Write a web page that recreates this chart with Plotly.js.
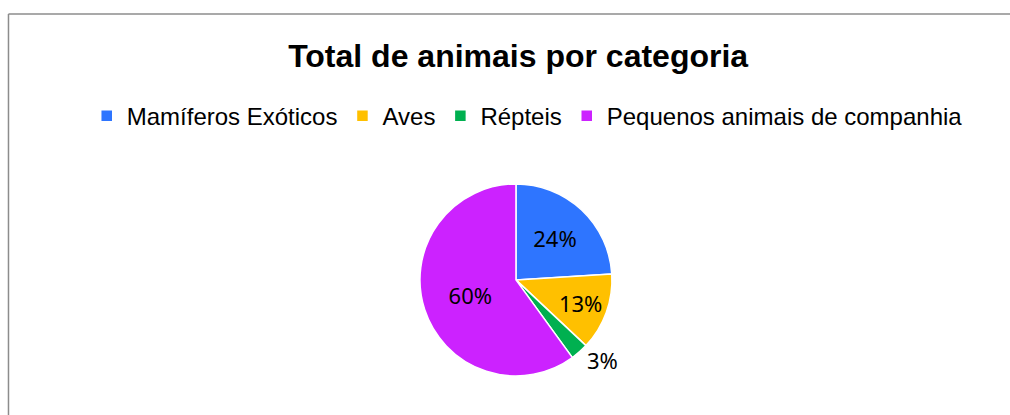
<!DOCTYPE html>
<html><head><meta charset="utf-8">
<script src="https://cdn.plot.ly/plotly-3.0.1.min.js"></script>
<style>html,body{margin:0;padding:0;background:#fff}#c{width:1010px;height:415px}</style>
</head><body><div id="c"></div>
<script>
const categories = ["Mamíferos Exóticos", "Aves", "Répteis", "Pequenos animais de companhia"];
const values = [24, 13, 3, 60];
const colors = ["#2E75FF", "#FFC000", "#00B050", "#CC22FF"];
const positions = ["inside", "inside", "outside", "inside"];

const trace = {
  type: "pie",
  labels: categories,
  values: values,
  sort: false,
  direction: "clockwise",
  rotation: 0,
  marker: {colors: colors, line: {color: "#ffffff", width: 1.5}},
  textinfo: "percent",
  texttemplate: "%{percent:.0%}",
  textposition: positions,
  insidetextorientation: "horizontal",
  textfont: {family: "Noto Sans, Liberation Sans, sans-serif", size: 22, color: "#000"},
  outsidetextfont: {family: "Noto Sans, Liberation Sans, sans-serif", size: 22, color: "#000"},
  domain: {x: [0.4158, 0.6059], y: [0.094, 0.557]},
  hoverinfo: "label+percent"
};

const layout = {
  width: 1010, height: 415,
  margin: {l: 0, r: 0, t: 0, b: 0},
  paper_bgcolor: "#fff",
  title: {text: "<b>Total de animais por categoria</b>", x: 0.513, xanchor: "center", y: 0.866, yanchor: "middle",
          font: {family: "Liberation Sans, Arial, sans-serif", size: 32, color: "#000"}},
  showlegend: true,
  legend: {orientation: "h", x: 0.522, xanchor: "center", y: 0.72, yanchor: "middle",
           font: {family: "Liberation Sans, Arial, sans-serif", size: 24, color: "#000"},
           itemwidth: 30, tracegroupgap: 0},
  shapes: [
    {type: "line", xref: "paper", yref: "paper", x0: 0.0084, x1: 1.01, y0: 0.966, y1: 0.966, line: {color: "#8c8c8c", width: 1.5}},
    {type: "line", xref: "paper", yref: "paper", x0: 0.0084, x1: 0.0084, y0: 0.966, y1: -0.01, line: {color: "#8c8c8c", width: 1.5}}
  ]
};
Plotly.newPlot("c", [trace], layout, {displayModeBar: false, staticPlot: true});
</script>
</body></html>
